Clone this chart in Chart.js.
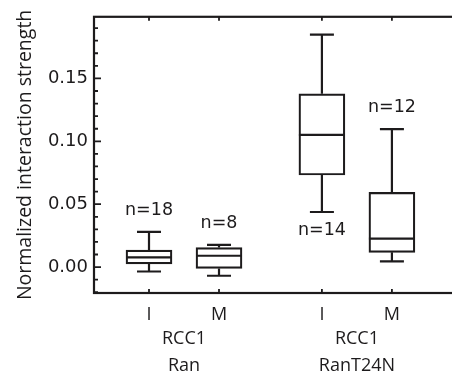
<!DOCTYPE html>
<html>
<head>
<meta charset="utf-8">
<script src="https://cdn.jsdelivr.net/npm/chart.js@4.4.1/dist/chart.umd.min.js"></script>
<style>
  html, body { margin: 0; padding: 0; overflow: hidden; background: #fff; }
  #wrap { width: 480px; height: 372px; }
</style>
</head>
<body>
<div id="wrap"><canvas id="boxChart" width="480" height="372"></canvas></div>
<script>
// Box plot values
const categories = ['I', 'M', 'I', 'M'];
const groupLabels = [['RCC1', 'Ran'], ['RCC1', 'RanT24N']];
const groupOf = [0, 0, 1, 1];
const whiskerLow = [-0.0035, -0.0069, 0.0438, 0.0045];
const q1 = [0.0026, -0.0011, 0.0732, 0.0117];
const median = [0.0077, 0.0090, 0.1052, 0.0227];
const q3 = [0.0135, 0.0155, 0.1378, 0.0594];
const whiskerHigh = [0.0280, 0.0176, 0.1849, 0.1097];
const nCounts = [18, 8, 14, 12];
const nBelow = [false, false, true, false];

const ink = '#1d1b1c';
const numFont = '"DejaVu Sans", sans-serif';
const labelFont = '"Open Sans", sans-serif';
const groupStep = 2.47;
const xMin = 0.2143, xMax = 5.614;

// position of a box on the linear x axis (two boxes per group)
function xPos(i) {
  return 1 + (i % 2) + groupOf[i] * groupStep;
}
function groupCenter(k) {
  return 1.5 + k * groupStep;
}
function isMajor(v) {
  return Math.abs(v * 20 - Math.round(v * 20)) < 1e-6;
}

// whiskers, medians and the n= labels
const boxExtras = {
  id: 'boxExtras',
  afterDatasetsDraw(chart) {
    const { ctx, scales: { y } } = chart;
    const bars = chart.getDatasetMeta(0).data;
    ctx.save();
    ctx.strokeStyle = ink;
    ctx.lineWidth = 2.2;
    bars.forEach((bar, i) => {
      const cx = bar.x;
      const half = bar.width / 2;
      const cap = 12;
      const yLo = y.getPixelForValue(whiskerLow[i]);
      const yQ1 = y.getPixelForValue(q1[i]);
      const yMed = y.getPixelForValue(median[i]);
      const yQ3 = y.getPixelForValue(q3[i]);
      const yHi = y.getPixelForValue(whiskerHigh[i]);
      ctx.beginPath();
      ctx.moveTo(cx - half, yMed); ctx.lineTo(cx + half, yMed);
      ctx.moveTo(cx, yQ3); ctx.lineTo(cx, yHi);
      ctx.moveTo(cx - cap, yHi); ctx.lineTo(cx + cap, yHi);
      ctx.moveTo(cx, yQ1); ctx.lineTo(cx, yLo);
      ctx.moveTo(cx - cap, yLo); ctx.lineTo(cx + cap, yLo);
      ctx.stroke();

      ctx.fillStyle = ink;
      ctx.font = '17.5px ' + numFont;
      ctx.textAlign = 'center';
      ctx.textBaseline = 'middle';
      const ly = nBelow[i] ? yLo + 18 : yHi - 21.5;
      ctx.fillText('n=' + nCounts[i], cx, ly);
    });
    ctx.restore();
  }
};

// frame with inward tick marks
const frameTicks = {
  id: 'frameTicks',
  afterDraw(chart) {
    const { ctx, chartArea: a, scales: { x, y } } = chart;
    ctx.save();
    ctx.strokeStyle = ink;
    ctx.lineWidth = 2.2;
    ctx.strokeRect(a.left, a.top, a.right - a.left, a.bottom - a.top);
    ctx.lineWidth = 1.8;
    ctx.beginPath();
    y.ticks.forEach(t => {
      const py = y.getPixelForValue(t.value);
      const len = isMajor(t.value) ? 7 : 4;
      ctx.moveTo(a.left, py); ctx.lineTo(a.left + len, py);
    });
    x.ticks.forEach(t => {
      const px = x.getPixelForValue(t.value);
      ctx.moveTo(px, a.top); ctx.lineTo(px, a.top + 4);
      ctx.moveTo(px, a.bottom); ctx.lineTo(px, a.bottom - 4);
    });
    ctx.stroke();
    ctx.restore();
  }
};

const ctx = document.getElementById('boxChart').getContext('2d');
const boxChart = new Chart(ctx, {
  type: 'bar',
  data: {
    datasets: [{
      data: categories.map((c, i) => ({ x: xPos(i), y: [q1[i], q3[i]] })),
      backgroundColor: '#fff',
      borderColor: ink,
      borderWidth: 2.2,
      borderSkipped: false,
      barThickness: 46
    }]
  },
  options: {
    responsive: false,
    animation: false,
    layout: { padding: { top: 12, right: 8, left: 0, bottom: 0 } },
    plugins: {
      legend: { display: false },
      tooltip: { enabled: false }
    },
    scales: {
      x: {
        type: 'linear',
        position: 'bottom',
        weight: 0,
        min: xMin,
        max: xMax,
        offset: false,
        grid: { display: false, drawTicks: false },
        border: { display: false },
        afterBuildTicks: s => { s.ticks = categories.map((c, i) => ({ value: xPos(i) })); },
        afterFit: s => { s.height = 33; },
        ticks: {
          autoSkip: false,
          maxRotation: 0,
          padding: 11,
          color: ink,
          font: { family: labelFont, size: 18 },
          callback: (v, i) => categories[i]
        }
      },
      groups: {
        type: 'linear',
        position: 'bottom',
        weight: 1,
        min: xMin,
        max: xMax,
        offset: false,
        grid: { display: false, drawTicks: false },
        border: { display: false },
        afterBuildTicks: s => { s.ticks = groupLabels.map((g, k) => ({ value: groupCenter(k) })); },
        afterFit: s => { s.height = 46; },
        ticks: {
          autoSkip: false,
          maxRotation: 0,
          padding: 0,
          color: ink,
          font: { family: labelFont, size: 18, lineHeight: 1.48 },
          callback: (v, i) => groupLabels[i]
        }
      },
      y: {
        min: -0.0206,
        max: 0.199,
        grid: { display: false, drawTicks: false },
        border: { display: false },
        afterFit: s => { s.width = 94; },
        ticks: {
          stepSize: 0.01,
          includeBounds: false,
          autoSkip: false,
          padding: 6,
          color: ink,
          font: { family: numFont, size: 18 },
          callback: v => isMajor(v) ? v.toFixed(2) : ''
        },
        title: {
          display: true,
          text: 'Normalized interaction strength',
          color: ink,
          padding: { top: 14, bottom: 0 },
          font: { family: labelFont, size: 19.5 }
        }
      }
    }
  },
  plugins: [boxExtras, frameTicks]
});
</script>
</body>
</html>
